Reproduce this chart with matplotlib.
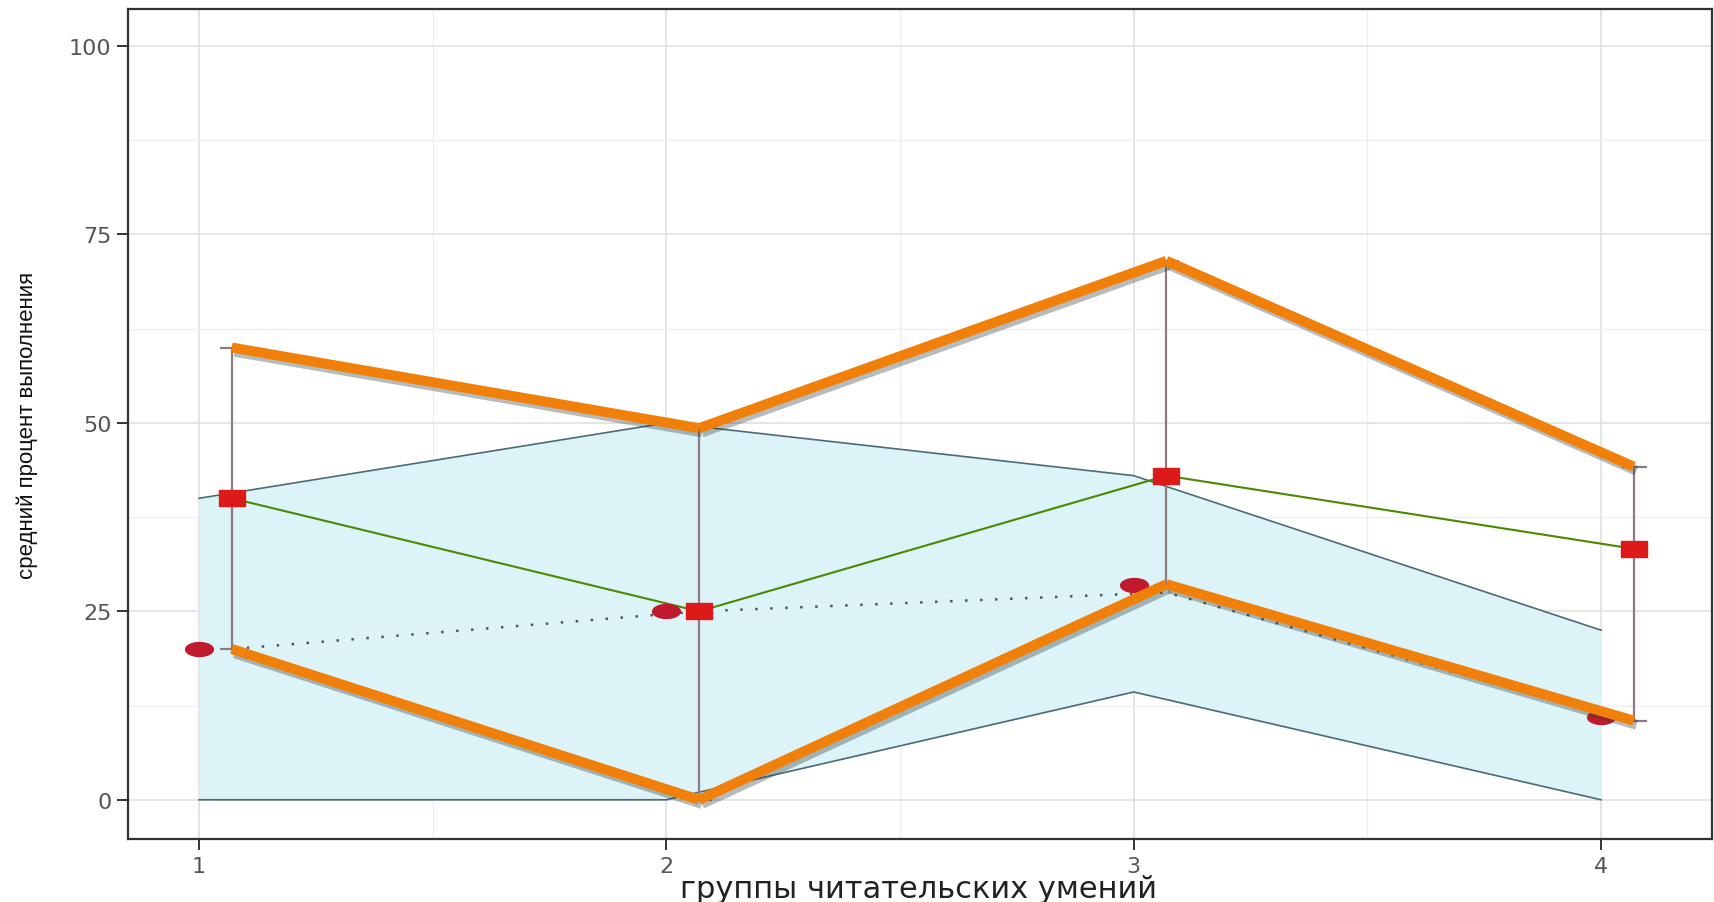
import matplotlib
matplotlib.use("Agg")
import matplotlib.pyplot as plt
import matplotlib.patheffects as pe
from matplotlib.path import Path
import numpy as np

# groups of reading skills
groups = [1, 2, 3, 4]
dodge = 0.07

# ribbon (range of the class)
band_low = [0, 0, 14.3, 0]
band_high = [40, 50, 43, 22.5]

# circles (first measure) and squares (second measure)
circle_vals = [20, 25, 28.5, 11]
square_vals = [40, 25, 43, 33.3]

# error bars at the squares
err_low = [20, 0, 28.5, 10.5]
err_high = [60, 49.5, 71.5, 44.2]

# dotted line
dotted_vals = [20, 25, 27.5, 10.3]

# orange overlay lines
orange_high = [60, 49.3, 71.5, 44.2]
orange_low = [20, 0, 28.6, 10.5]

xlabel = "группы читательских умений"
ylabel = "средний процент выполнения"

fig = plt.figure(figsize=(17.14, 9.03), dpi=100)
ax = fig.add_axes([0.0747, 0.0698, 0.9240, 0.919])

x = np.array(groups, dtype=float)
xd = x + dodge

# grid
ax.set_xticks(groups)
ax.set_xticks([1.5, 2.5, 3.5], minor=True)
ax.set_yticks([0, 25, 50, 75, 100])
ax.set_yticks([12.5, 37.5, 62.5, 87.5], minor=True)
ax.grid(which="major", color="#e3e3e3", lw=1.3, zorder=0)
ax.grid(which="minor", color="#efefef", lw=1.0, zorder=0)
ax.set_axisbelow(True)

# ribbon
ax.fill_between(x, band_low, band_high, color="#dcf3f7", lw=0, zorder=1)
ax.plot(x, band_high, color="#4d6b75", lw=1.2, zorder=2)
ax.plot(x, band_low, color="#4d6b75", lw=1.2, zorder=2)

# error bars
ax.errorbar(xd, square_vals,
            yerr=[np.array(square_vals) - np.array(err_low),
                  np.array(err_high) - np.array(square_vals)],
            fmt="none", ecolor="#8c7b82", elinewidth=1.6, capsize=9,
            capthick=1.6, zorder=3)

# dotted line
ax.plot(xd, dotted_vals, color="#555555", lw=1.8, ls=(0, (1, 5)), zorder=3)

# green line through squares
ax.plot(xd, square_vals, color="#4a8a00", lw=1.5, zorder=4)

# stretched markers
t = np.linspace(0, 2 * np.pi, 40)
ellipse = Path(np.column_stack([np.cos(t), 0.5 * np.sin(t)]), closed=True)
rect = Path([(-1, -0.6), (1, -0.6), (1, 0.6), (-1, 0.6), (-1, -0.6)], closed=True)

ax.plot(x, circle_vals, ls="none", marker=ellipse, ms=20, color="#c01a2e",
        mec="#c01a2e", zorder=5)
ax.plot(xd, square_vals, ls="none", marker=rect, ms=19, color="#dd1a1a",
        mec="#dd1a1a", zorder=5)

# orange overlay with shadow
shadow = [pe.SimpleLineShadow(offset=(2, -3), shadow_color="#2f3d42", alpha=0.35),
          pe.Normal()]
for ys in (orange_high, orange_low):
    for i in range(len(xd) - 1):
        ax.plot(xd[i:i + 2], ys[i:i + 2], color="#f0800a", lw=7.2,
                solid_capstyle="butt", path_effects=shadow, zorder=6)

ax.set_xlim(0.848, 4.237)
ax.set_ylim(-5.2, 104.9)

for s in ax.spines.values():
    s.set_color("#333333")
    s.set_linewidth(1.6)

ax.tick_params(which="major", length=8, width=1.4, color="#333333",
               labelcolor="#555555", labelsize=16, pad=4)
ax.tick_params(which="minor", length=0)

fig.text(918 / 1714, 1 - 890 / 903, xlabel, ha="center", va="center",
         fontsize=22, color="#222222")
fig.text(27 / 1714, 0.529, ylabel, ha="center", va="center", rotation=90,
         fontsize=16, family="Liberation Sans", color="#111111")

fig.savefig("out.png", dpi=100)
